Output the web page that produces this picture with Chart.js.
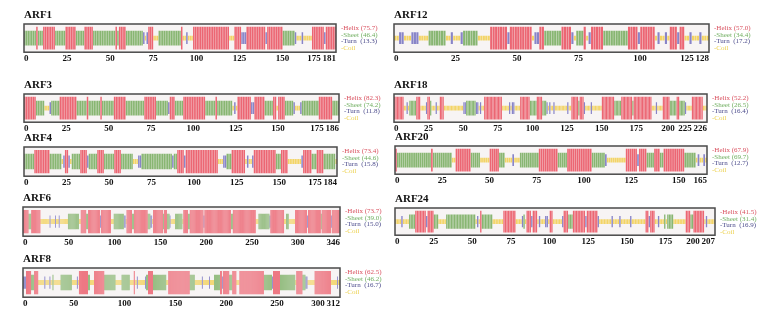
<!DOCTYPE html>
<html><head><meta charset="utf-8">
<script src="https://cdn.jsdelivr.net/npm/chart.js@4.4.1/dist/chart.umd.min.js"></script>
<style>
html,body{margin:0;padding:0;background:#fff;}
#wrap{position:relative;width:783px;height:320px;overflow:hidden;background:#fff;}
#wrap canvas{position:absolute;}
</style></head>
<body><div id="wrap"></div>
<script>
// ---------------- DATA ----------------
const proteins = ['ARF1','ARF3','ARF4','ARF6','ARF8','ARF12','ARF18','ARF20','ARF24'];
const lengths  = [181, 186, 184, 346, 312, 128, 226, 165, 207];
const tickSteps = [25, 25, 25, 50, 50, 25, 25, 25, 25];
const helixVals = [75.7, 82.3, 73.4, 73.7, 62.5, 57.0, 52.2, 67.9, 41.5];
const sheetVals = [46.4, 74.2, 44.6, 39.0, 46.2, 34.4, 26.5, 69.7, 31.4];
const turnVals  = [13.3, 11.8, 15.8, 15.0, 16.7, 17.2, 16.4, 12.7, 16.9];
const classNames = ['Helix', 'Sheet', 'Turn', 'Coil'];
const classCodes = ['h', 'e', 't', 'c'];

// secondary structure segments per protein (code + residue range, 0-based)
const ARF1_ss = ['e0-6','h7','e8-10','h11-17','e18-23','h24-29','e30-34','h35-39','e40-52','h53','e54','h55-58','e59-68','t69','c70','t71','h72-74','c75-77','e78-90','h91','c92-93','t94','c95-97','h98-118','c119-121','h122-125','t126-128','h129-139','t140','h141-149','e150-156','t157','c158-160','t161','c162-166','h167-173','t174','h175-180'];
const ARF3_ss = ['h0-6','e7-11','c12-14','t15','e16-20','h21-30','e31-36','h37','e38-44','h45','e46-52','h53-59','e60-70','h71-77','e78-84','t85','h86-88','e89-93','h94-106','e107-112','h113','e114-122','c123','t124','c125','h126-133','t134-135','h136-141','e142-146','h147-148','c149','h150-153','e154-158','t159','c160-162','t163','e164-173','h174-181','e182-185'];
const ARF4_ss = ['e0-5','h6-14','e15-21','c22','t23','h24-25','t26','c27','e28-32','h33-36','t37','e38-42','h43-46','e47-52','h53-56','e57-63','c64-66','t67-68','e69-86','t87','e88-89','h90-93','t94','h95-113','c114-116','t117-118','e119-121','h122-129','c130','t131','c132-133','t134','h135-147','e148-150','h151-154','c155-162','t163','h164-168','e169-171','h172-175','e176-182','c183'];
const ARF6_ss = ['h0-5','e6-8','h9-18','c19-28','t29','c30-34','t35','c36-38','t39','c40-48','e49-60','c61-62','h63-68','e69-70','h71-83','t84','h85-95','c96-98','e99-109','t110-111','c112','h113-118','e119-120','h121-135','e136-138','t139-140','c141','h142-152','e153','h154-156','e157-159','t160','c161-165','e166-173','c174','h175-179','e180-181','h182-196','t197','h198-226','e227-228','h229-253','c254-256','e257-268','t269','h270-284','c285-286','e287-289','c290-296','h297-309','t310','h311-324','e325','h326-335','t336','h337-345'];
const ARF8_ss = ['t0-2','h3-7','e8-10','h11-14','c15-20','t21','c22-25','t26','c27-28','e29','c30-36','e37-47','c48-52','t53','c54','h55-63','e64-65','c66-69','h70-79','e80-90','c91-96','e97-104','c105-108','h109','c110-111','t112','c113-119','t120','e121-122','h123-127','e128-140','c141-142','h143-163','e164-168','c169-175','t176','c177-182','t183','c184-187','e188-193','h194-195','t196','h197-202','e203-205','h206-209','c210-212','h213-236','e237-244','t245','h246-252','e253-267','c268','h269-274','e275-277','t278-279','c280-286','h287-302','c303-308','t309','c310-311'];
const ARF12_ss = ['c0-1','t2-3','c4-6','t7-9','c10-13','e14-20','c21-22','t23','c24-26','t27','e28-33','c34-38','h39-45','t46','h47-55','c56','t57-58','h59-60','e61-67','h68-71','t72','c73','e74-76','h77','c78','t79','h80-84','e85-94','h95-98','t99','h100-105','c106','t107','c108-109','t110','c111','h112-114','t115','h116-117','c118-119','t120','c121-123','t124','c125-127'];
const ARF18_ss = ['h0-6','c7-8','t9','c10','e11-15','h16-18','c19-22','t23','h24-25','e26','c27-29','t30','c31-32','h33-35','c36-49','t50-51','e52-58','t59-60','c61','t62','c63-64','h65-77','c78-82','t83','c84','t85-86','c87-90','h91-97','e98-102','h103-106','e107-109','t110','c111','t112','c113-114','t115','c116-124','t125','c126-127','h128-132','e133','h134-136','t137','c138-141','t142','c143-149','h150-158','e159-163','h164-171','e172','h173-185','c186-188','t189','c190-193','h194-198','e199-203','h204-205','e206-209','t210','c211-214','h215-222','c223-225'];
const ARF20_ss = ['h0','e1-18','h19','e20-29','c30-31','h32-39','e40-44','c45-49','h50-54','e55-57','c58-61','t62','c63-65','e66-75','h76-85','e86-90','h91-103','e104-110','t111','c112-121','h122-127','t128','h129-132','e133-136','h137-139','e140-141','h142-152','e153-158','c159','t160','c161-162','t163','c164'];
const ARF24_ss = ['c0-3','t4','c5-8','e9-12','h13-19','t20','h21-24','e25-27','c28-32','e33-51','c52','t53','c54','h55','e56-62','c63-69','h70-77','c78-81','t82','e83','c84','h85-87','t88','h89-91','c92','t93','c94-96','t97-98','c99','h100-101','c102-107','t108','h109-111','e112-114','h115-122','t123','h124-130','t131','c132-139','t140','c141-144','t145','c146-151','t152','c153-161','h162-163','t164','h165-167','c168-169','t170','c171-173','e174','c175','e176-179','c180-187','h188-190','e191-192','h193-199','c200','t201','c202-206'];
const structures = [ARF1_ss, ARF3_ss, ARF4_ss, ARF6_ss, ARF8_ss, ARF12_ss, ARF18_ss, ARF20_ss, ARF24_ss];

// ---------------- STYLE / LAYOUT ----------------
// plot box per panel: [left, right, top, bottom] in page pixels
const panelBoxes = [
  [24, 336, 24, 53], [24, 339, 94, 123], [24, 337, 147, 177], [23, 340, 207, 237], [23, 340, 268, 298],
  [394, 709, 24, 53], [394, 707, 94, 123], [395, 707, 146, 175], [395, 715, 208, 236]
];
const barColors = ['#ec6673', '#88b672', '#8884c8', '#f3d466'];
const legendColors = ['#d9505e', '#6fae5f', '#4c4c8c', '#ecd04c'];
const barHalfHeights = [0.8, 0.53, 0.42, 0.17];
const serif = '"Liberation Serif", "Times New Roman", serif';
const PAD_L = 8, PAD_R = 64, TITLE_H = 15.2, AXIS_H = 11.8;
const LAST_GAP = 22, LABEL_GAP = 17;

function expand(tokens) {
  const sets = classCodes.map(() => []);
  tokens.forEach(tok => {
    const k = classCodes.indexOf(tok[0]);
    const parts = tok.slice(1).split('-').map(Number);
    const a = parts[0], b = parts.length > 1 ? parts[1] : parts[0];
    for (let r = a; r <= b; r++) sets[k].push(r + 0.5);
  });
  return sets;
}

function boxPlugin(lines) {
  return {
    id: 'ssBox',
    beforeDatasetsDraw(chart) {
      const { ctx, chartArea: a } = chart;
      ctx.save();
      ctx.fillStyle = '#f7f4f4';
      ctx.fillRect(a.left, a.top, a.right - a.left, a.bottom - a.top);
      ctx.restore();
    },
    afterDatasetsDraw(chart) {
      const { ctx, chartArea: a } = chart;
      ctx.save();
      ctx.strokeStyle = '#4a4a4a';
      ctx.lineWidth = 1.5;
      ctx.strokeRect(a.left, a.top, a.right - a.left, a.bottom - a.top);
      ctx.font = '7px ' + serif;
      ctx.textAlign = 'left';
      ctx.textBaseline = 'middle';
      lines.forEach((s, i) => {
        ctx.fillStyle = legendColors[i];
        ctx.fillText(s, a.right + 5, a.top + 4 + i * 6.8);
      });
      ctx.restore();
    }
  };
}

const wrap = document.getElementById('wrap');
proteins.forEach((name, p) => {
  const N = lengths[p], step = tickSteps[p];
  const [L, R, T, B] = panelBoxes[p];
  const cv = document.createElement('canvas');
  const w = (R - L) + PAD_L + PAD_R;
  const top = Math.floor(T - TITLE_H);
  const h = Math.round(B - top + AXIS_H);
  cv.width = w; cv.height = h;
  cv.style.width = w + 'px'; cv.style.height = h + 'px';
  cv.style.left = (L - PAD_L) + 'px';
  cv.style.top = top + 'px';
  wrap.appendChild(cv);

  const sets = expand(structures[p]);
  const lines = [
    '-Helix (' + helixVals[p].toFixed(1) + ')',
    '-Sheet (' + sheetVals[p].toFixed(1) + ')',
    '-Turn  (' + turnVals[p].toFixed(1) + ')',
    '-Coil'
  ];
  const pxPerRes = (R - L) / N;

  new Chart(cv, {
    type: 'bar',
    data: {
      datasets: classNames.map((n, k) => ({
        label: n,
        data: sets[k].map(x => ({ x: x, y: [-barHalfHeights[k], barHalfHeights[k]] })),
        backgroundColor: barColors[k],
        borderWidth: 0,
        grouped: false,
        categoryPercentage: 1,
        barPercentage: 0.86
      }))
    },
    options: {
      responsive: false,
      animation: false,
      devicePixelRatio: 1,
      layout: { padding: { left: PAD_L, right: PAD_R, top: T - TITLE_H - top, bottom: 0 } },
      scales: {
        x: {
          type: 'linear', min: 0, max: N, offset: false,
          grid: { display: false, drawTicks: false },
          border: { display: false },
          afterBuildTicks(scale) {
            const t = [];
            for (let v = 0; v < N; v += step) t.push({ value: v, lbl: String(v) });
            t.push({ value: N, lbl: String(N) });
            // keep labels from colliding: nudge crowded labels leftwards
            for (let i = t.length - 2; i > 0; i--) {
              const gap = (i === t.length - 2 ? LAST_GAP : LABEL_GAP) / pxPerRes;
              if (t[i + 1].value - t[i].value < gap) t[i].value = t[i + 1].value - gap;
            }
            scale.ticks = t;
          },
          ticks: {
            autoSkip: false, maxRotation: 0, minRotation: 0, align: 'inner', padding: 1,
            color: '#111',
            font: { family: serif, size: 9, weight: 'bold' },
            callback: (v, i, t) => t[i].lbl
          }
        },
        y: { display: false, min: -1, max: 1 }
      },
      plugins: {
        legend: { display: false },
        tooltip: { enabled: false },
        title: {
          display: true, text: name, align: 'start', color: '#111',
          font: { family: serif, size: 11, weight: 'bold' },
          padding: { top: 0, bottom: 2 }
        }
      }
    },
    plugins: [boxPlugin(lines)]
  });
});
</script>
</body></html>
